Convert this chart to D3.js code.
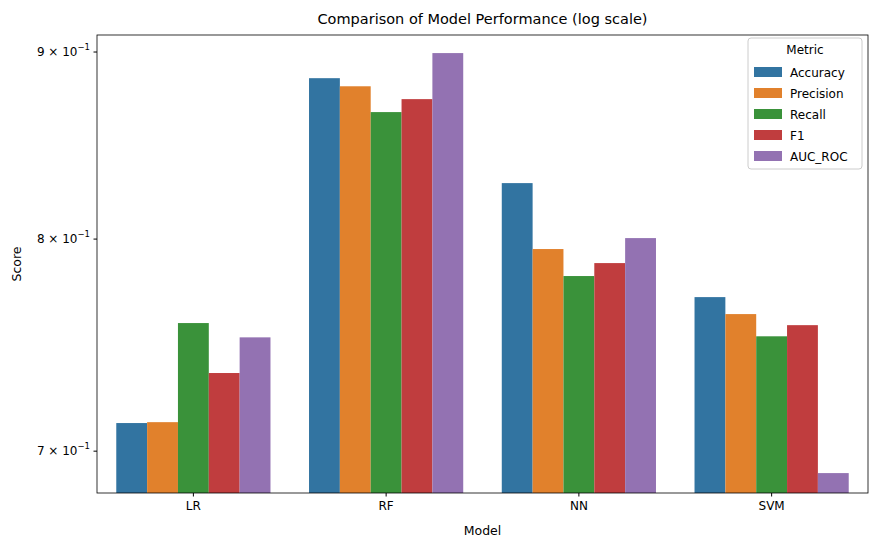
<!DOCTYPE html>
<html><head><meta charset="utf-8">
<script src="https://cdn.jsdelivr.net/npm/d3@7"></script>
<style>body{margin:0;background:#fff;font-family:"DejaVu Sans",sans-serif;}</style>
</head><body><svg id="c" width="881" height="547"></svg>
<script>
const models=["LR","RF","NN","SVM"];
const metrics=["Accuracy","Precision","Recall","F1","AUC_ROC"];
const colors=["#3274a1","#e1812c","#3a923a","#c03d3e","#9372b2"];
const accuracy=[0.7125,0.8853,0.8287,0.7713];
const precision=[0.7129,0.8808,0.7950,0.7631];
const recall=[0.7588,0.8666,0.7816,0.7525];
const f1=[0.7353,0.8737,0.7880,0.7578];
const aucRoc=[0.7520,0.8994,0.8005,0.6904];
const series=[accuracy,precision,recall,f1,aucRoc];
const yTicks=[0.7,0.8,0.9];

const svg=d3.select("#c");
const L=97,R=868,T=35,B=493;
const x=d3.scaleBand().domain(models).range([L,R]).paddingInner(0.2).paddingOuter(0.1);
const x1=d3.scaleBand().domain(metrics).range([0,x.bandwidth()]);
const y=d3.scaleLog().domain([0.6818,0.9097]).range([B,T]);

models.forEach((m,i)=>metrics.forEach((k,j)=>{
  const v=series[j][i];
  svg.append("rect").attr("x",x(m)+x1(k)).attr("width",x1.bandwidth())
    .attr("y",y(v)).attr("height",B-y(v)).attr("fill",colors[j]);
}));

svg.append("rect").attr("x",L).attr("y",T).attr("width",R-L).attr("height",B-T)
  .attr("fill","none").attr("stroke","#000").attr("stroke-width",0.8);

const xa=svg.append("g").attr("transform",`translate(0,${B})`)
  .call(d3.axisBottom(x).tickSize(3.5).tickSizeOuter(0));
xa.select(".domain").remove();
xa.selectAll("text").attr("font-size",12).attr("fill","#000").attr("dy","0.9em").attr("font-family","DejaVu Sans");

const ya=svg.append("g");
yTicks.forEach(t=>{
  const yy=y(t);
  ya.append("line").attr("x1",L-3.5).attr("x2",L).attr("y1",yy).attr("y2",yy).attr("stroke","#000");
  const tx=ya.append("text").attr("x",L-7).attr("y",yy+4).attr("text-anchor","end").attr("font-size",12);
  tx.append("tspan").text(Math.round(t*10)+" × 10");
  tx.append("tspan").attr("font-size",8.5).attr("dy",-6).text("−1");
});

svg.append("text").attr("x",(L+R)/2).attr("y",24).attr("text-anchor","middle").attr("font-size",14.5).text("Comparison of Model Performance (log scale)");
svg.append("text").attr("x",(L+R)/2).attr("y",535).attr("text-anchor","middle").attr("font-size",12.5).text("Model");
svg.append("text").attr("transform",`translate(21,${(T+B)/2}) rotate(-90)`).attr("text-anchor","middle").attr("font-size",12.5).text("Score");

const lg=svg.append("g").attr("transform","translate(748,38)");
lg.append("rect").attr("width",114).attr("height",131).attr("rx",3).attr("fill","#fff").attr("fill-opacity",0.8).attr("stroke","#ccc");
lg.append("text").attr("x",57).attr("y",16).attr("text-anchor","middle").attr("font-size",12).text("Metric");
metrics.forEach((k,j)=>{
  const yy=34+j*21;
  lg.append("rect").attr("x",6).attr("y",yy-5).attr("width",28).attr("height",10).attr("fill",colors[j]);
  lg.append("text").attr("x",42).attr("y",yy+4.5).attr("font-size",12).text(k);
});
</script></body></html>
